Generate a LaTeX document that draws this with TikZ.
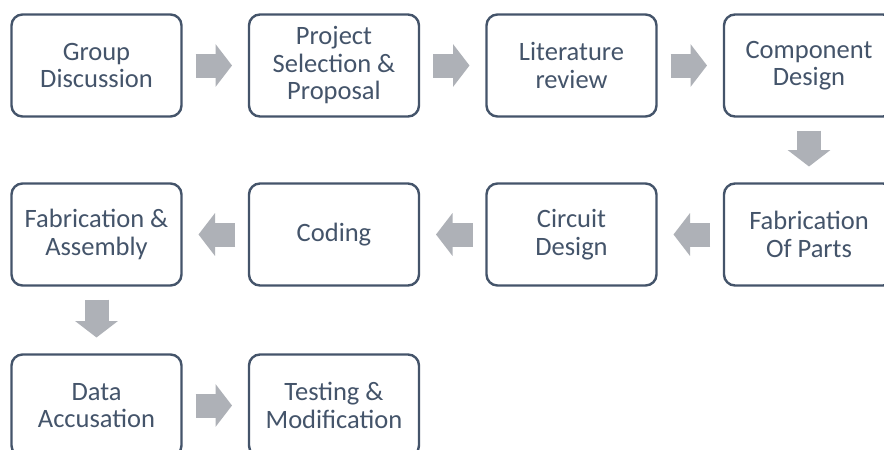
\documentclass[tikz,border=0pt]{standalone}
\usepackage{fontspec}
\setmainfont{Carlito}
\usetikzlibrary{arrows.meta}
\definecolor{boxline}{RGB}{68,84,106}
\definecolor{flowgray}{RGB}{174,177,183}
\begin{document}
\begin{tikzpicture}[x=1pt,y=-1pt,
  stepbox/.style={draw=boxline, line width=2.4pt, rounded corners=11pt,
    minimum width=170pt, minimum height=102pt, align=center, text=boxline,
    font=\fontsize{26.5}{27.5}\selectfont, inner sep=0pt, outer sep=0pt, fill=white},
  flow/.style={draw=flowgray, line width=24pt,
    -{Triangle[length=16.5pt,width=42pt]}, shorten <=14pt, shorten >=17pt}]
% page frame, cropped like the original figure
\path[use as bounding box, fill=white] (0,0) rectangle (884,450);
\clip (0,0) rectangle (884,450);

% first row: left to right
\node[stepbox] (g) at (96.5,65.5)  {Group\\Discussion};
\node[stepbox] (p) at (334,65.5)   {Project\\Selection \&\\Proposal};
\node[stepbox] (l) at (571.5,65.5) {Literature\\review};
\node[stepbox] (c) at (809,65.5)   {Component\\Design};

% second row: right to left
\node[stepbox] (f) at (809,234.5)  {Fabrication\\Of Parts};
\node[stepbox] (d) at (571.5,234.5){Circuit\\Design};
\node[stepbox] (k) at (334,234.5)  {Coding};
\node[stepbox] (a) at (96.5,234.5) {Fabrication \&\\Assembly};

% third row
\node[stepbox] (q) at (96.5,405.5) {Data\\Accusation};
\node[stepbox] (t) at (334,405.5)  {Testing \&\\Modification};

% block arrows between the steps
\draw[flow] (g) -- (p);
\draw[flow] (p) -- (l);
\draw[flow] (l) -- (c);
\draw[flow] (c) -- (f);
\draw[flow] (f) -- (d);
\draw[flow] (d) -- (k);
\draw[flow] (k) -- (a);
\draw[flow] (a) -- (q);
\draw[flow] (q) -- (t);
\end{tikzpicture}
\end{document}
